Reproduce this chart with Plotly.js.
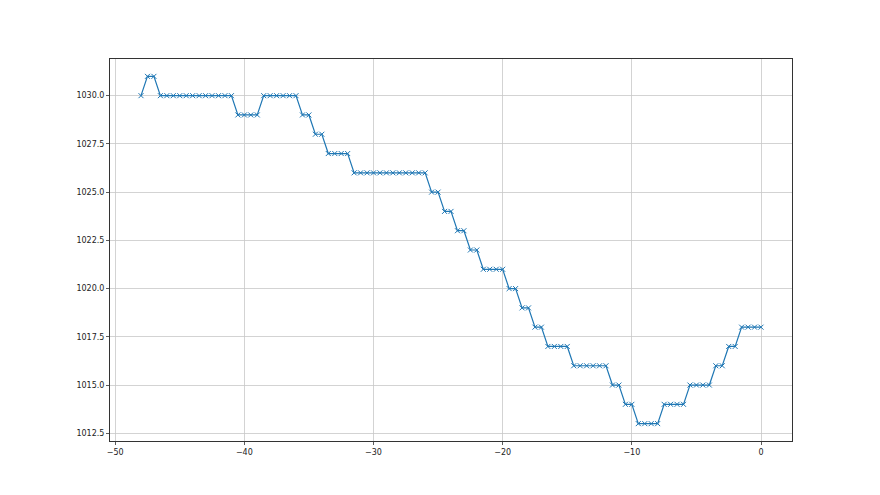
<!DOCTYPE html>
<html>
<head>
<meta charset="utf-8">
<script src="https://cdn.plot.ly/plotly-3.0.1.min.js"></script>
<style>html,body{margin:0;padding:0;background:#fff;}#chart{width:880px;height:495px;}</style>
</head>
<body>
<div id="chart"></div>
<script>
// x positions (hours) and pressure values
const xStart = -48;
const xStep = 0.5;
const pressure = [
  1030,
  1031, 1031,
  1030, 1030, 1030, 1030, 1030, 1030, 1030, 1030, 1030, 1030, 1030, 1030,
  1029, 1029, 1029, 1029,
  1030, 1030, 1030, 1030, 1030, 1030,
  1029, 1029,
  1028, 1028,
  1027, 1027, 1027, 1027,
  1026, 1026, 1026, 1026, 1026, 1026, 1026, 1026, 1026, 1026, 1026, 1026,
  1025, 1025,
  1024, 1024,
  1023, 1023,
  1022, 1022,
  1021, 1021, 1021, 1021,
  1020, 1020,
  1019, 1019,
  1018, 1018,
  1017, 1017, 1017, 1017,
  1016, 1016, 1016, 1016, 1016, 1016,
  1015, 1015,
  1014, 1014,
  1013, 1013, 1013, 1013,
  1014, 1014, 1014, 1014,
  1015, 1015, 1015, 1015,
  1016, 1016,
  1017, 1017,
  1018, 1018, 1018, 1018
];
const xValues = pressure.map((_, i) => xStart + i * xStep);
const xTicks = [-50, -40, -30, -20, -10, 0];
const xTickLabels = ['\u221250', '\u221240', '\u221230', '\u221220', '\u221210', '0'];
const yTicks = [1012.5, 1015.0, 1017.5, 1020.0, 1022.5, 1025.0, 1027.5, 1030.0];
const yTickLabels = ['1012.5', '1015.0', '1017.5', '1020.0', '1022.5', '1025.0', '1027.5', '1030.0'];

const trace = {
  x: xValues,
  y: pressure,
  type: 'scatter',
  mode: 'lines+markers',
  line: {color: '#1f77b4', width: 1.2},
  marker: {symbol: 'x-thin', size: 5, color: '#1f77b4', line: {color: '#1f77b4', width: 1}},
  hoverinfo: 'none'
};

const axisCommon = {
  showgrid: true,
  gridcolor: '#c8c8c8',
  gridwidth: 0.8,
  zeroline: false,
  showline: true,
  linecolor: '#333333',
  linewidth: 1,
  mirror: true,
  ticks: 'outside',
  ticklen: 3,
  tickwidth: 0.8,
  tickcolor: '#333333',
  tickfont: {family: 'DejaVu Sans', size: 8, color: '#222222'},
  tickmode: 'array'
};

const layout = {
  width: 880,
  height: 495,
  margin: {l: 110, r: 88, t: 59, b: 54},
  paper_bgcolor: '#ffffff',
  plot_bgcolor: '#ffffff',
  showlegend: false,
  xaxis: Object.assign({}, axisCommon, {
    range: [-50.4, 2.4],
    tickvals: xTicks,
    ticktext: xTickLabels
  }),
  yaxis: Object.assign({}, axisCommon, {
    range: [1012.1, 1031.9],
    tickvals: yTicks,
    ticktext: yTickLabels
  })
};

Plotly.newPlot('chart', [trace], layout, {staticPlot: true, displayModeBar: false});
</script>
</body>
</html>
